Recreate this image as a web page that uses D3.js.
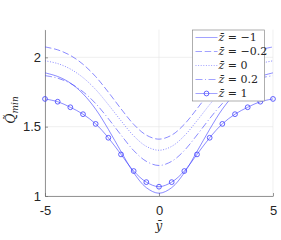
<!DOCTYPE html>
<html>
<head>
<meta charset="utf-8">
<script src="https://cdn.jsdelivr.net/npm/d3@7"></script>
<style>
  body { margin: 0; background: #fff; }
  svg { display: block; }
</style>
</head>
<body>
<div id="chart"></div>
<script>
// positions along y-bar (markers sit on every point)
const yBar = [-5, -4.444, -3.889, -3.333, -2.778, -2.222, -1.667, -1.111, -0.556, 0,
              0.556, 1.111, 1.667, 2.222, 2.778, 3.333, 3.889, 4.444, 5];

// Q_min values for each z-bar
const qZm1  = [1.888, 1.862, 1.815, 1.737, 1.626, 1.481, 1.321, 1.168, 1.060, 1.020,
               1.060, 1.168, 1.321, 1.481, 1.626, 1.737, 1.815, 1.862, 1.888];
const qZm02 = [2.075, 2.054, 2.014, 1.950, 1.861, 1.749, 1.629, 1.517, 1.439, 1.410,
               1.439, 1.517, 1.629, 1.749, 1.861, 1.950, 2.014, 2.054, 2.075];
const qZ0   = [1.975, 1.955, 1.916, 1.854, 1.768, 1.659, 1.543, 1.434, 1.358, 1.330,
               1.358, 1.434, 1.543, 1.659, 1.768, 1.854, 1.916, 1.955, 1.975];
const qZp02 = [1.868, 1.850, 1.812, 1.752, 1.667, 1.558, 1.440, 1.328, 1.250, 1.220,
               1.250, 1.328, 1.440, 1.558, 1.667, 1.752, 1.812, 1.850, 1.868];
const qZ1   = [1.700, 1.680, 1.640, 1.590, 1.520, 1.420, 1.300, 1.180, 1.100, 1.067,
               1.100, 1.180, 1.300, 1.420, 1.520, 1.590, 1.640, 1.680, 1.700];

const legendLabels = ["\u2212" + "1", "\u2212" + "0.2", "0", "0.2", "1"];
const dashStyles = [null, "6.5,2.7", "1,1.6", "7,2.5,1,2.5", null];
const xTicks = [-5, 0, 5];
const yTicks = [1, 1.5, 2];

const series = [qZm1, qZm02, qZ0, qZp02, qZ1].map((vals, i) => ({
  label: legendLabels[i],
  dash: dashStyles[i],
  markers: i === 4,
  points: yBar.map((x, j) => ({ x: x, q: vals[j] }))
}));

const width = 281, height = 240;
const margin = { left: 45, right: 8, top: 29.6, bottom: 44 };
const blue = "#3d3dff";

const svg = d3.select("#chart").append("svg")
    .attr("width", width)
    .attr("height", height);

const x = d3.scaleLinear().domain([-5, 5]).range([margin.left, width - margin.right]);
const y = d3.scaleLinear().domain([1, 2.2]).range([height - margin.bottom, margin.top]);

// grid
svg.append("g").selectAll("line.gx")
  .data(xTicks)
  .join("line")
    .attr("x1", d => x(d)).attr("x2", d => x(d))
    .attr("y1", y(1)).attr("y2", y(2.2))
    .attr("stroke", "#e6e6e6").attr("stroke-width", 0.6);
svg.append("g").selectAll("line.gy")
  .data(yTicks)
  .join("line")
    .attr("x1", x(-5)).attr("x2", x(5))
    .attr("y1", d => y(d)).attr("y2", d => y(d))
    .attr("stroke", "#e6e6e6").attr("stroke-width", 0.6);

// axes
const xAxis = d3.axisBottom(x).tickValues(xTicks).tickSizeInner(-3).tickSizeOuter(0)
    .tickFormat(d => d < 0 ? "-" + Math.abs(d) : d);
const yAxis = d3.axisLeft(y).tickValues(yTicks).tickSizeInner(-3).tickSizeOuter(0)
    .tickFormat(d3.format("~g"));

const gx = svg.append("g")
    .attr("transform", `translate(0,${y(1)})`)
    .call(xAxis);
const gy = svg.append("g")
    .attr("transform", `translate(${x(-5)},0)`)
    .call(yAxis);

[gx, gy].forEach(g => {
  g.select(".domain").attr("stroke", "#6b6b6b").attr("stroke-width", 0.7);
  g.selectAll(".tick line").attr("stroke", "#6b6b6b").attr("stroke-width", 0.7);
  g.selectAll(".tick text")
    .attr("fill", "#262626")
    .style("font-family", "'Liberation Sans', Arial, sans-serif")
    .style("font-size", "13px");
});
gx.selectAll(".tick text").attr("dy", "1.2em");
gy.selectAll(".tick text").attr("x", -4);

// curves
const line = d3.line()
    .x(d => x(d.x))
    .y(d => y(d.q))
    .curve(d3.curveCatmullRom.alpha(0.5));

svg.append("g").selectAll("path")
  .data(series)
  .join("path")
    .attr("d", d => line(d.points))
    .attr("fill", "none")
    .attr("stroke", blue)
    .attr("stroke-width", 0.6)
    .attr("stroke-dasharray", d => d.dash);

svg.append("g").selectAll("circle")
  .data(series[4].points)
  .join("circle")
    .attr("cx", d => x(d.x))
    .attr("cy", d => y(d.q))
    .attr("r", 2.4)
    .attr("fill", "none")
    .attr("stroke", blue)
    .attr("stroke-width", 0.8);

// axis labels
const serif = "'DejaVu Serif', 'Liberation Serif', serif";
svg.append("text")
    .attr("x", x(0))
    .attr("y", 230)
    .attr("text-anchor", "middle")
    .style("font-family", serif)
    .style("font-style", "italic")
    .style("font-size", "12px")
    .attr("fill", "#262626")
    .text("y\u0304");

const yl = svg.append("text")
    .attr("transform", `translate(15,${y(1.62)}) rotate(-90)`)
    .attr("text-anchor", "middle")
    .style("font-family", serif)
    .style("font-style", "italic")
    .style("font-size", "12.5px")
    .attr("fill", "#262626");
yl.append("tspan").text("Q\u0303");
yl.append("tspan").attr("dy", 3).style("font-size", "9px").text("min");

// legend
const leg = svg.append("g").attr("transform", "translate(192.5,30)");
leg.append("rect")
    .attr("width", 72).attr("height", 71)
    .attr("fill", "#fff")
    .attr("stroke", "#8c8c8c")
    .attr("stroke-width", 0.7);

const rows = leg.selectAll("g.row")
  .data(series)
  .join("g")
    .attr("transform", (d, i) => `translate(0,${7.5 + i * 14})`);

rows.append("line")
    .attr("x1", 3).attr("x2", 25)
    .attr("stroke", "#7a7aff")
    .attr("stroke-width", 0.7)
    .attr("stroke-dasharray", d => d.dash);
rows.filter(d => d.markers).append("circle")
    .attr("cx", 14).attr("r", 2.4)
    .attr("fill", "none")
    .attr("stroke", blue)
    .attr("stroke-width", 0.8);

const lt = rows.append("text")
    .attr("x", 26)
    .attr("dy", "0.35em")
    .style("font-family", serif)
    .style("font-size", "11px")
    .attr("fill", "#262626");
lt.append("tspan").style("font-style", "italic").text("z\u0304");
lt.append("tspan").text(d => " = " + d.label);
</script>
</body>
</html>
